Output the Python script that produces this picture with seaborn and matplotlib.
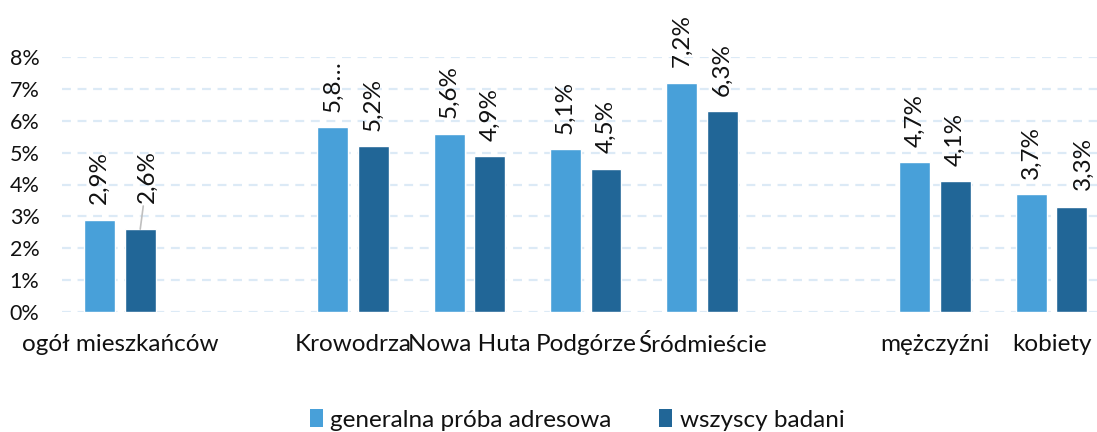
import matplotlib
matplotlib.use("Agg")
import matplotlib.pyplot as plt
from matplotlib.patches import Patch
import seaborn as sns
import pandas as pd

# ---- data ----
categories = ["ogół mieszkańców", "Krowodrza", "Nowa Huta", "Podgórze",
              "Śródmieście", "mężczyźni", "kobiety"]
slot_order = ["ogół mieszkańców", "_gap1", "Krowodrza", "Nowa Huta", "Podgórze",
              "Śródmieście", "_gap2", "mężczyźni", "kobiety"]
series_names = ["generalna próba adresowa", "wszyscy badani"]
generalna = [2.9, 5.8, 5.6, 5.1, 7.2, 4.7, 3.7]
wszyscy = [2.6, 5.2, 4.9, 4.5, 6.3, 4.1, 3.3]
labels_generalna = ["2,9%", "5,8…", "5,6%", "5,1%", "7,2%", "4,7%", "3,7%"]
labels_wszyscy = ["2,6%", "5,2%", "4,9%", "4,5%", "6,3%", "4,1%", "3,3%"]
y_ticks = [0, 1, 2, 3, 4, 5, 6, 7, 8]
y_tick_labels = ["0%", "1%", "2%", "3%", "4%", "5%", "6%", "7%", "8%"]

light = "#48A0D9"
dark = "#216697"
text_color = "#111111"

df = pd.DataFrame({
    "kategoria": categories * 2,
    "wartosc": generalna + wszyscy,
    "seria": [series_names[0]] * len(categories) + [series_names[1]] * len(categories),
})

sns.set_theme(style="white")
plt.rcParams["font.family"] = ["Lato", "DejaVu Sans"]

fig = plt.figure(figsize=(10.97, 4.32), dpi=100)
W, H = 1097, 432
ax = fig.add_axes([61.75 / W, 120 / H, 1048 / W, 255 / H])

sns.barplot(data=df, x="kategoria", y="wartosc", hue="seria",
            order=slot_order, hue_order=series_names,
            palette=[light, dark], saturation=1, width=0.696, gap=0.236,
            errorbar=None, legend=False, ax=ax, zorder=3)

ax.set_xlim(-0.5, len(slot_order) - 0.5)
ax.set_ylim(0, 8)
ax.set_yticks(y_ticks)
ax.set_yticklabels(y_tick_labels, fontsize=15.5, color=text_color)
ax.set_xticks(range(len(slot_order)))
ax.set_xticklabels([s if not s.startswith("_") else "" for s in slot_order],
                   fontsize=17.5, color=text_color)
ax.tick_params(axis="x", length=0, pad=16)
ax.tick_params(axis="y", length=0, pad=16)
ax.set_xlabel("")
ax.set_ylabel("")
for sp in ax.spines.values():
    sp.set_visible(False)
ax.yaxis.grid(True, color="#DCEAF6", linestyle=(0, (4, 3)), linewidth=1.6, zorder=0)
ax.xaxis.grid(False)

# value labels
all_labels = [labels_generalna, labels_wszyscy]
special = {(1, 0): (5, 19), (1, 6): (8, 12)}
for si, cont in enumerate(ax.containers):
    bars = sorted([b for b in cont if b.get_height() > 0], key=lambda b: b.get_x())
    for bi, b in enumerate(bars):
        cx = b.get_x() + b.get_width() / 2
        h = b.get_height()
        off = special.get((si, bi), (0, 11))
        kw = {}
        if (si, bi) == (1, 0):
            kw["arrowprops"] = dict(arrowstyle="-", color="#BFBFBF", lw=1.2,
                                    shrinkA=0, shrinkB=0)
        ax.annotate(all_labels[si][bi], xy=(cx, h), xytext=off,
                    textcoords="offset points", rotation=90,
                    ha="center", va="bottom", fontsize=17.5,
                    color=text_color, annotation_clip=False, **kw)

handles = [Patch(facecolor=light, edgecolor="none"),
           Patch(facecolor=dark, edgecolor="none")]
fig.legend(handles, series_names, loc="center", bbox_to_anchor=(577 / W, 12 / H),
           ncol=2, frameon=False, fontsize=17.5, handlelength=0.55, handleheight=0.7,
           handletextpad=0.3, columnspacing=1.95, labelcolor=text_color)

fig.savefig("out.png", dpi=100)
